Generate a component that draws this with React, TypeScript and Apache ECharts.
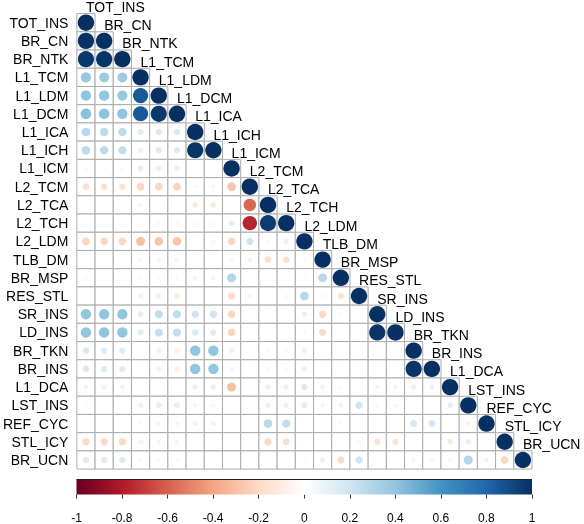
import React, { useEffect, useRef } from 'react';
import * as echarts from 'echarts';

const variables = [
  'TOT_INS', 'BR_CN', 'BR_NTK', 'L1_TCM', 'L1_LDM', 'L1_DCM', 'L1_ICA', 'L1_ICH', 'L1_ICM',
  'L2_TCM', 'L2_TCA', 'L2_TCH', 'L2_LDM', 'TLB_DM', 'BR_MSP', 'RES_STL', 'SR_INS', 'LD_INS',
  'BR_TKN', 'BR_INS', 'L1_DCA', 'LST_INS', 'REF_CYC', 'STL_ICY', 'BR_UCN',
];

// lower-triangle correlation rows (column 0 .. diagonal)
const rowTOT_INS = [1];
const rowBR_CN = [0.99, 1];
const rowBR_NTK = [0.97, 0.98, 1];
const rowL1_TCM = [0.38, 0.37, 0.36, 1];
const rowL1_LDM = [0.4, 0.4, 0.38, 0.85, 1];
const rowL1_DCM = [0.42, 0.41, 0.4, 0.85, 0.97, 1];
const rowL1_ICA = [0.28, 0.27, 0.26, 0.14, 0.16, 0.16, 1];
const rowL1_ICH = [0.27, 0.26, 0.25, 0.1, 0.15, 0.15, 0.98, 1];
const rowL1_ICM = [-0.05, -0.05, -0.05, 0.12, 0.11, 0.11, 0.03, 0.03, 1];
const rowL2_TCM = [-0.17, -0.16, -0.16, -0.22, -0.22, -0.23, -0.05, -0.05, -0.28, 1];
const rowL2_TCA = [0.01, 0.01, 0.01, -0.06, 0, 0, -0.12, -0.12, 0.02, -0.58, 1];
const rowL2_TCH = [0.01, 0.01, 0.01, 0, 0.05, 0.05, -0.04, -0.04, 0.12, -0.77, 0.96, 1];
const rowL2_LDM = [-0.22, -0.21, -0.21, -0.3, -0.28, -0.28, -0.02, -0.05, -0.22, 0.2, -0.05, -0.1, 1];
const rowTLB_DM = [0, 0, 0.02, 0.07, 0.08, 0.08, 0.01, 0.01, 0.06, 0.08, -0.18, -0.17, 0.05, 1];
const rowBR_MSP = [0.04, 0.03, 0.03, 0.04, 0.04, 0.04, -0.07, -0.07, 0.3, 0.01, 0, 0, -0.04, 0.28, 1];
const rowRES_STL = [0.01, 0, 0, -0.1, -0.1, -0.1, 0, 0, -0.2, 0.08, -0.03, -0.05, 0.28, -0.05, -0.15, 1];
const rowSR_INS = [0.4, 0.4, 0.4, 0.14, 0.25, 0.25, 0.2, 0.2, -0.22, 0.01, 0.02, 0.02, 0.1, -0.2, -0.04, 0.02, 1];
const rowLD_INS = [0.4, 0.4, 0.4, 0.14, 0.24, 0.24, 0.15, 0.15, -0.22, 0, 0.01, 0.01, 0.05, -0.2, -0.03, 0.03, 0.98, 1];
const rowBR_TKN = [0.17, 0.15, 0.15, 0, -0.1, -0.1, 0.4, 0.4, -0.1, 0.01, 0.05, 0.04, 0.1, 0, 0, 0.03, 0, 0, 1];
const rowBR_INS = [0.17, 0.15, 0.15, 0, -0.1, -0.1, 0.4, 0.4, -0.07, 0.01, 0.05, 0.04, 0.1, 0, 0, 0.02, 0, 0, 0.98, 1];
const rowL1_DCA = [0.08, 0.08, 0.08, 0.03, 0, 0, 0.1, 0.1, -0.3, 0, 0.1, 0.1, 0.15, -0.08, -0.05, 0, 0.07, 0.07, 0.1, 0.1, 1];
const rowLST_INS = [-0.04, -0.04, -0.04, 0.1, 0.12, 0.12, 0.06, 0.05, 0.01, 0, 0.1, 0.1, 0.13, 0.06, 0.08, 0.2, 0.05, 0.05, 0.02, 0.02, 0.12, 1];
const rowREF_CYC = [-0.04, -0.04, -0.04, -0.05, -0.07, -0.07, 0.08, 0.08, -0.04, 0, 0.28, 0.25, 0, -0.04, -0.05, 0, -0.04, -0.04, 0.18, 0.18, 0, 0.07, 1];
const rowSTL_ICY = [-0.2, -0.2, -0.2, -0.08, -0.07, -0.07, 0.01, 0.01, 0, 0, -0.2, -0.18, -0.02, 0, 0, -0.05, -0.15, -0.15, 0, 0, -0.12, -0.12, 0, 1];
const rowBR_UCN = [0.15, 0.15, 0.15, 0.05, 0.05, 0.05, 0.02, 0.03, 0.03, 0.02, 0, 0, -0.04, -0.1, -0.2, 0.2, 0, 0, 0.06, 0.06, -0.07, 0.3, 0.08, -0.22, 1];

const corrRows = [
  rowTOT_INS, rowBR_CN, rowBR_NTK, rowL1_TCM, rowL1_LDM, rowL1_DCM, rowL1_ICA, rowL1_ICH, rowL1_ICM,
  rowL2_TCM, rowL2_TCA, rowL2_TCH, rowL2_LDM, rowTLB_DM, rowBR_MSP, rowRES_STL, rowSR_INS, rowLD_INS,
  rowBR_TKN, rowBR_INS, rowL1_DCA, rowLST_INS, rowREF_CYC, rowSTL_ICY, rowBR_UCN,
];

const legendMin = -1;
const legendMax = 1;
const legendStep = 0.2;

const rdbuColors = [
  '#67001F', '#B2182B', '#D6604D', '#F4A582', '#FDDBC7', '#FFFFFF',
  '#D1E5F0', '#92C5DE', '#4393C3', '#2166AC', '#053061',
];

const FONT = '"Liberation Sans", Arial, Helvetica, sans-serif';

export default function App() {
  const ref = useRef<HTMLDivElement>(null);

  useEffect(() => {
    if (!ref.current) return;
    const chart = echarts.init(ref.current, null, { renderer: 'svg' });

    const cells: number[][] = [];
    corrRows.forEach((row, i) => row.forEach((v, j) => cells.push([j, i, v])));
    const diagLabels = variables.map((_, j) => [j, j]);

    chart.setOption({
      animation: false,
      grid: [
        { left: 76.5, top: 13.6, width: 455.5, height: 455.5 },
        { left: 76.5, top: 479.5, width: 455.5, height: 15 },
      ],
      xAxis: [
        { type: 'category', data: variables, gridIndex: 0, show: false },
        {
          type: 'value', gridIndex: 1, min: legendMin, max: legendMax, interval: legendStep,
          axisLine: { show: false },
          splitLine: { show: false },
          axisTick: { show: true, length: 4, lineStyle: { color: '#333', width: 1 } },
          axisLabel: {
            fontSize: 12, color: '#000', margin: 17, fontFamily: FONT,
            formatter: (v: number) => String(Number(v.toFixed(1))),
          },
        },
      ],
      yAxis: [
        {
          type: 'category', data: variables, inverse: true, gridIndex: 0,
          axisLine: { show: false }, axisTick: { show: false }, splitLine: { show: false },
          axisLabel: { interval: 0, fontSize: 14, color: '#000', margin: 8.5, fontFamily: FONT },
        },
        { type: 'value', gridIndex: 1, min: 0, max: 1, show: false },
      ],
      visualMap: {
        show: false, type: 'continuous', min: legendMin, max: legendMax,
        dimension: 2, seriesIndex: 1, inRange: { color: rdbuColors },
      },
      series: [
        {
          type: 'custom', xAxisIndex: 0, yAxisIndex: 0, data: cells,
          renderItem: (params: any, api: any) => {
            const c = api.coord([api.value(0), api.value(1)]);
            const s = api.size([1, 1]);
            return {
              type: 'rect',
              shape: { x: c[0] - s[0] / 2, y: c[1] - s[1] / 2, width: s[0], height: s[1] },
              style: { fill: '#fff', stroke: '#ababab', lineWidth: 1 },
            };
          },
        },
        {
          type: 'custom', xAxisIndex: 0, yAxisIndex: 0, data: cells,
          dimensions: ['x', 'y', 'r'],
          renderItem: (params: any, api: any) => {
            const c = api.coord([api.value(0), api.value(1)]);
            const s = api.size([1, 1]);
            const v = api.value(2);
            return {
              type: 'circle',
              shape: { cx: c[0], cy: c[1], r: s[0] * 0.45 * Math.sqrt(Math.abs(v)) },
              style: { fill: api.visual('color') },
            };
          },
        },
        {
          type: 'custom', xAxisIndex: 0, yAxisIndex: 0, data: diagLabels, clip: false,
          renderItem: (params: any, api: any) => {
            const c = api.coord([api.value(0), api.value(1)]);
            const s = api.size([1, 1]);
            return {
              type: 'text',
              x: c[0],
              y: c[1] - s[1] + 2.5,
              style: {
                text: variables[params.dataIndex],
                fill: '#000', fontSize: 14, lineHeight: 14, fontFamily: FONT,
                align: 'left', verticalAlign: 'middle',
              },
            };
          },
        },
        {
          type: 'custom', xAxisIndex: 1, yAxisIndex: 1, data: [[legendMin, 0]], clip: false,
          renderItem: (params: any, api: any) => {
            const p0 = api.coord([legendMin, 1]);
            const p1 = api.coord([legendMax, 0]);
            return {
              type: 'group',
              children: [
                {
                  type: 'rect',
                  shape: { x: p0[0], y: p0[1], width: p1[0] - p0[0], height: p1[1] - p0[1] },
                  style: {
                    fill: new echarts.graphic.LinearGradient(0, 0, 1, 0,
                      rdbuColors.map((col, k) => ({ offset: k / (rdbuColors.length - 1), color: col }))),
                  },
                },
                {
                  type: 'line',
                  shape: { x1: p0[0], y1: p0[1], x2: p1[0], y2: p0[1] },
                  style: { stroke: '#222', lineWidth: 1 },
                },
              ],
            };
          },
        },
      ],
    });

    return () => chart.dispose();
  }, []);

  return (
    <div
      ref={ref}
      style={{ position: 'fixed', left: 0, top: 0, width: 584, height: 524 }}
    />
  );
}
